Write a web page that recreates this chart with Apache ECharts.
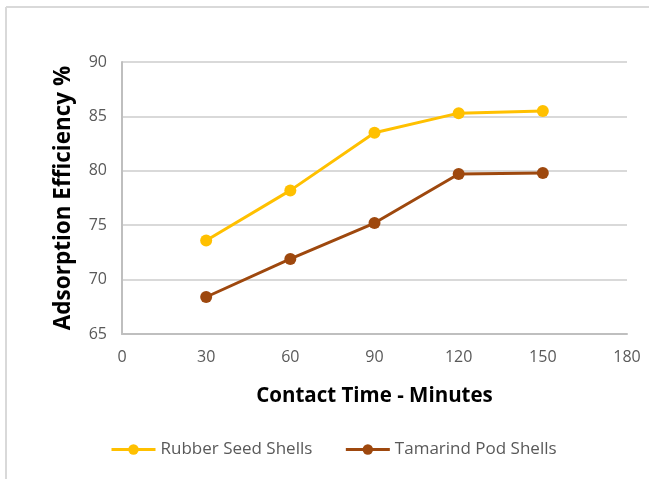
<!DOCTYPE html>
<html>
<head>
<meta charset="utf-8">
<script src="https://cdn.jsdelivr.net/npm/echarts@6/dist/echarts.min.js"></script>
<style>
html,body{margin:0;padding:0;background:#fff;}
#chart{width:649px;height:479px;}
</style>
</head>
<body>
<div id="chart"></div>
<script>
var contactTime = [30, 60, 90, 120, 150];
var rubberSeed = [73.6, 78.2, 83.5, 85.3, 85.5];
var tamarindPod = [68.4, 71.9, 75.2, 79.7, 79.8];
var seriesNames = ['Rubber Seed Shells', 'Tamarind Pod Shells'];
var xTitle = 'Contact Time - Minutes';
var yTitle = 'Adsorption Efficiency %';

var FONT = "'Open Sans', sans-serif";
function pairs(xs, ys){ return xs.map(function(x,i){ return [x, ys[i]]; }); }

var chart = echarts.init(document.getElementById('chart'));
chart.setOption({
  animation: false,
  backgroundColor: '#fff',
  graphic: [
    { type: 'line', shape: {x1: 6, y1: 7, x2: 649, y2: 7}, style: {stroke: '#D9D9D9', lineWidth: 2} },
    { type: 'line', shape: {x1: 6, y1: 7, x2: 6, y2: 479}, style: {stroke: '#D9D9D9', lineWidth: 2} }
  ],
  grid: { left: 122, right: 22, top: 62, bottom: 145 },
  legend: {
    top: 436,
    left: 105,
    itemWidth: 44,
    itemHeight: 13,
    itemGap: 32,
    lineStyle: { width: 3 },
    textStyle: { color: '#595959', fontSize: 17, fontFamily: FONT },
    data: seriesNames
  },
  xAxis: {
    type: 'value', min: 0, max: 180, interval: 30,
    name: xTitle, nameLocation: 'middle', nameGap: 52,
    nameTextStyle: { color: '#000', fontSize: 20.5, fontWeight: 'bold', fontFamily: FONT },
    axisLine: { show: true, lineStyle: { color: '#BFBFBF', width: 2 } },
    axisTick: { show: false },
    splitLine: { show: false },
    axisLabel: { color: '#595959', fontSize: 16, margin: 15, fontFamily: FONT }
  },
  yAxis: {
    type: 'value', min: 65, max: 90, interval: 5,
    name: yTitle, nameLocation: 'middle', nameGap: 47, nameRotate: 90,
    nameTextStyle: { color: '#000', fontSize: 22.5, fontWeight: 'bold', fontFamily: FONT },
    axisLine: { show: true, lineStyle: { color: '#BFBFBF', width: 2 } },
    axisTick: { show: false },
    splitLine: { show: true, lineStyle: { color: '#D9D9D9', width: 2 } },
    axisLabel: { color: '#595959', fontSize: 16, margin: 15, fontFamily: FONT }
  },
  series: [
    {
      name: seriesNames[0], type: 'line', data: pairs(contactTime, rubberSeed),
      symbol: 'circle', symbolSize: 12,
      itemStyle: { color: '#FFC000' },
      lineStyle: { color: '#FFC000', width: 3 }
    },
    {
      name: seriesNames[1], type: 'line', data: pairs(contactTime, tamarindPod),
      symbol: 'circle', symbolSize: 12,
      itemStyle: { color: '#9E480E' },
      lineStyle: { color: '#9E480E', width: 3 }
    }
  ]
});
</script>
</body>
</html>
